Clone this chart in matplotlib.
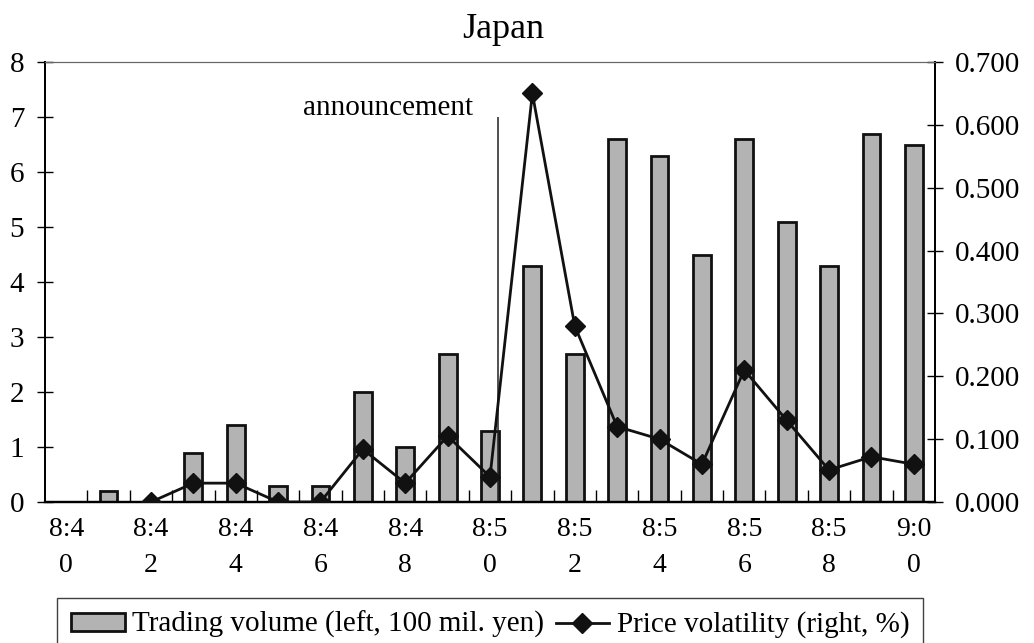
import matplotlib
matplotlib.use("Agg")
import matplotlib.pyplot as plt
from matplotlib.patches import Patch
from matplotlib.lines import Line2D

times = ["8:40", "8:41", "8:42", "8:43", "8:44", "8:45", "8:46", "8:47", "8:48", "8:49",
         "8:50", "8:51", "8:52", "8:53", "8:54", "8:55", "8:56", "8:57", "8:58", "8:59", "9:00"]
volume = [0, 0.2, 0, 0.9, 1.4, 0.3, 0.3, 2.0, 1.0, 2.7,
          1.3, 4.3, 2.7, 6.6, 6.3, 4.5, 6.6, 5.1, 4.3, 6.7, 6.5]
volatility = [None, None, 0.000, 0.030, 0.030, 0.000, 0.000, 0.084, 0.030, 0.105,
              0.040, 0.650, 0.280, 0.120, 0.100, 0.060, 0.210, 0.130, 0.051, 0.072, 0.060]
left_ticks = [0, 1, 2, 3, 4, 5, 6, 7, 8]
right_ticks = [0.0, 0.1, 0.2, 0.3, 0.4, 0.5, 0.6, 0.7]
announce_x = 10.2
announce_top = 7.0

plt.rcParams['font.family'] = ['Liberation Serif', 'DejaVu Serif']
FS = 20

fig = plt.figure(figsize=(10.34, 6.43), dpi=100)
W, H = 1034, 643
ax = fig.add_axes([45 / W, 1 - 502 / H, (935 - 45) / W, (502 - 62) / H])
ax2 = ax.twinx()

n = len(times)
xs = list(range(n))
ax.bar(xs, volume, width=0.42, color='#b3b3b3', edgecolor='#111111', linewidth=2.0, zorder=2)
ax.set_xlim(-0.5, n - 0.5)
ax.set_ylim(0, 8)
ax.set_yticks(left_ticks)
ax.set_yticklabels([str(t) for t in left_ticks], fontsize=FS + 1)
ax.tick_params(axis='y', direction='inout', length=12, width=1, pad=9)

ax.vlines(announce_x, 0, announce_top, color='#222222', linewidth=1.1, zorder=3)
ax.text(announce_x - 0.6, announce_top + 0.04, "announcement", ha='right', va='baseline',
        fontsize=FS + 1)

# x ticks: boundaries (major, inside), labels at even categories (minor)
ax.set_xticks([i - 0.5 for i in range(1, n)])
ax.set_xticklabels([])
ax.tick_params(axis='x', which='major', direction='in', length=9, width=1)
lab_pos = list(range(0, n, 2))
ax.set_xticks(lab_pos, minor=True)
ax.set_xticklabels([times[i][:3] + "\n" + times[i][3:] for i in lab_pos], minor=True,
                   fontsize=FS, linespacing=1.55)
ax.tick_params(axis='x', which='minor', length=0, pad=11)

vx = [i for i, v in enumerate(volatility) if v is not None]
vy = [v for v in volatility if v is not None]
ax2.plot(vx, vy, color='#111111', linewidth=2, marker='D', markersize=10, zorder=4)
ax2.set_ylim(0, 0.7)
ax2.set_yticks(right_ticks)
ax2.set_yticklabels(["%.3f" % t for t in right_ticks], fontsize=FS + 1)
ax2.tick_params(axis='y', direction='inout', length=12, width=1, pad=8)

for a in (ax, ax2):
    a.spines['top'].set_color('#666666')
    a.spines['left'].set_linewidth(1.3)
    a.spines['right'].set_linewidth(1.3)
    a.spines['bottom'].set_linewidth(1.6)

fig.text(503 / W, 1 - 29 / H, "Japan", ha='center', va='center', fontsize=26)

handles = [Patch(facecolor='#b3b3b3', edgecolor='#111111', linewidth=2.0),
           Line2D([0], [0], color='#111111', linewidth=2, marker='D', markersize=10)]
labels = ["Trading volume (left, 100 mil. yen)", "Price volatility (right, %)"]
leg = fig.legend(handles, labels, loc='upper center', bbox_to_anchor=(490 / W, 1 - 598 / H),
                 ncol=2, fontsize=FS + 1, frameon=True, fancybox=False, edgecolor='#111111',
                 borderaxespad=0, handlelength=1.85, handleheight=0.55, handletextpad=0.25,
                 columnspacing=0.4, borderpad=0.45)
leg.get_frame().set_linewidth(1.0)

fig.savefig("out.png", dpi=100)
